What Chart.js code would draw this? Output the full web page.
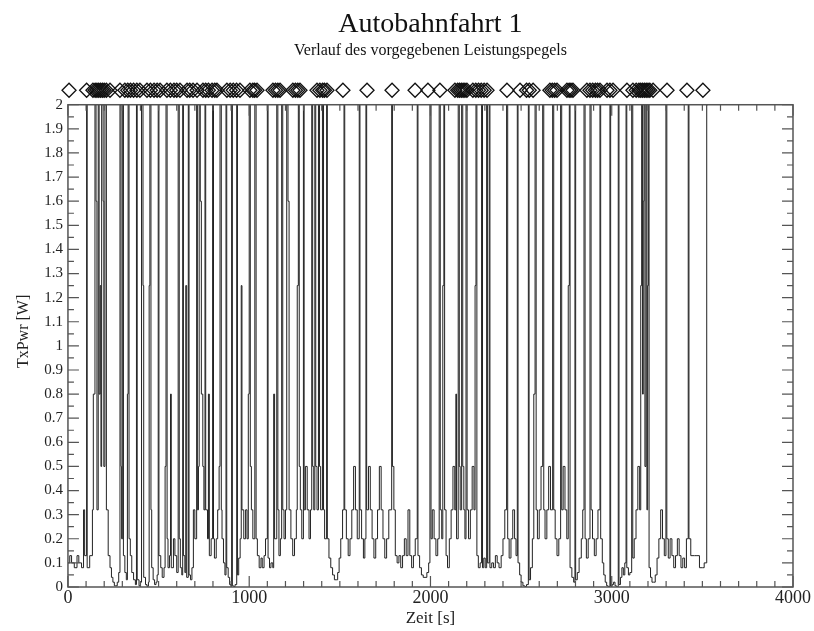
<!DOCTYPE html>
<html>
<head>
<meta charset="utf-8">
<script src="https://cdn.jsdelivr.net/npm/chart.js@4/dist/chart.umd.min.js"></script>
<style>
  html, body { margin: 0; background: #fff; }
</style>
</head>
<body>
<canvas id="pegelChart" width="814" height="631"></canvas>
<script>
// Zeitpunkte [s] und vorgegebener Leistungspegel [W] (Treppenverlauf)
const zeit = [
    0, 10, 20, 35, 50, 60, 75, 86, 92, 103,
    106, 120, 135, 140, 149, 155, 160, 167, 172, 178,
    182, 186, 194, 198, 204, 212, 222, 232, 240, 248,
    256, 264, 272, 280, 287, 293, 296, 302, 306, 314,
    322, 328, 332, 337, 344, 352, 362, 372, 378, 382,
    392, 400, 406, 414, 418, 428, 436, 444, 448, 452,
    458, 462, 470, 478, 486, 492, 498, 502, 512, 520,
    530, 536, 541, 547, 552, 560, 566, 570, 582, 590,
    600, 608, 614, 620, 628, 633, 637, 645, 650, 655,
    664, 668, 676, 684, 692, 700, 710, 714, 720, 724,
    730, 736, 744, 750, 756, 760, 770, 775, 780, 790,
    798, 803, 808, 818, 826, 834, 839, 846, 850, 858,
    866, 872, 876, 884, 892, 900, 903, 907, 914, 922,
    931, 935, 942, 950, 956, 960, 970, 980, 988, 995,
    1000, 1006, 1012, 1020, 1031, 1038, 1045, 1055, 1065, 1072,
    1082, 1090, 1100, 1104, 1112, 1120, 1130, 1135, 1140, 1152,
    1158, 1164, 1172, 1179, 1185, 1192, 1200, 1207, 1214, 1220,
    1230, 1240, 1250, 1260, 1265, 1271, 1276, 1282, 1290, 1299,
    1303, 1310, 1320, 1330, 1338, 1345, 1350, 1356, 1362, 1367,
    1374, 1382, 1388, 1394, 1404, 1410, 1416, 1427, 1431, 1440,
    1450, 1460, 1470, 1480, 1488, 1496, 1505, 1515, 1523, 1527,
    1536, 1546, 1556, 1566, 1576, 1586, 1596, 1607, 1611, 1620,
    1630, 1638, 1644, 1648, 1658, 1668, 1678, 1688, 1698, 1708,
    1718, 1728, 1738, 1748, 1758, 1770, 1786, 1790, 1798, 1806,
    1816, 1826, 1836, 1846, 1856, 1866, 1876, 1886, 1896, 1906,
    1916, 1927, 1931, 1940, 1950, 1960, 1970, 1980, 1990, 1997,
    2003, 2010, 2020, 2030, 2040, 2048, 2054, 2062, 2068, 2074,
    2078, 2086, 2094, 2104, 2114, 2124, 2134, 2140, 2144, 2153,
    2159, 2164, 2172, 2178, 2184, 2190, 2196, 2202, 2210, 2220,
    2230, 2240, 2246, 2251, 2256, 2264, 2274, 2282, 2287, 2294,
    2302, 2310, 2314, 2324, 2328, 2338, 2348, 2358, 2368, 2378,
    2390, 2400, 2410, 2420, 2426, 2434, 2444, 2454, 2464, 2472,
    2479, 2483, 2492, 2500, 2510, 2520, 2530, 2540, 2544, 2552,
    2562, 2570, 2577, 2583, 2590, 2600, 2610, 2619, 2625, 2632,
    2642, 2652, 2662, 2674, 2680, 2688, 2698, 2708, 2718, 2724,
    2732, 2742, 2752, 2760, 2766, 2770, 2780, 2790, 2797, 2801,
    2810, 2820, 2832, 2840, 2847, 2853, 2860, 2870, 2880, 2886,
    2894, 2904, 2914, 2924, 2935, 2939, 2948, 2956, 2964, 2972,
    2980, 2990, 2994, 3002, 3010, 3018, 3026, 3036, 3040, 3048,
    3056, 3064, 3072, 3079, 3083, 3092, 3100, 3110, 3116, 3124,
    3134, 3144, 3154, 3160, 3165, 3170, 3174, 3178, 3183, 3189,
    3194, 3198, 3202, 3206, 3214, 3222, 3230, 3240, 3250, 3260,
    3270, 3280, 3290, 3299, 3304, 3312, 3322, 3332, 3342, 3352,
    3362, 3372, 3382, 3392, 3402, 3412, 3422, 3426, 3436, 3456,
    3470, 3484, 3500, 3510, 3524, 3530
];
const leistung = [
    0.1, 0.13, 0.1, 0.08, 0.13, 0.1, 0.08, 0.32, 0.13, 2,
    0.08, 0.13, 0.32, 0.8, 2, 1.6, 0.32, 2, 0.8, 1.25,
    0.5, 2, 1.6, 0.5, 2, 0.32, 0.13, 0.08, 0.04, 0.02,
    0.005, 0.005, 0.02, 0.06, 2, 0.5, 0.2, 2, 0.13, 0.06,
    0.03, 0.8, 2, 0.2, 0.13, 0.06, 0.03, 0.01, 2, 0.03,
    0.005, 0.02, 2, 1.25, 0.04, 0.01, 0.003, 0.02, 1.25, 2,
    0.32, 0.08, 0.03, 0.01, 0.02, 0.05, 2, 0.13, 0.08, 0.04,
    0.08, 0.5, 2, 0.2, 0.08, 0.13, 0.8, 0.08, 0.2, 0.13,
    0.06, 2, 0.2, 0.08, 0.05, 2, 0.13, 0.06, 1.25, 0.04,
    2, 0.05, 0.03, 0.08, 0.32, 0.2, 2, 0.32, 0.5, 2,
    1.6, 0.8, 0.5, 0.32, 2, 0.32, 0.2, 0.8, 0.13, 0.2,
    2, 0.2, 0.12, 0.2, 0.32, 0.5, 2, 0.32, 0.2, 0.1,
    0.05, 2, 0.08, 0.04, 0.01, 0.003, 2, 0.005, 0.002, 0.01,
    2, 0.05, 0.12, 0.2, 1.25, 0.32, 0.2, 0.32, 0.2, 0.8,
    2, 0.5, 0.32, 0.2, 2, 0.2, 0.13, 0.08, 0.12, 0.08,
    0.13, 0.2, 2, 0.12, 0.08, 0.1, 0.08, 0.8, 0.2, 2,
    0.32, 0.13, 0.2, 2, 0.32, 0.2, 0.32, 2, 1.6, 0.32,
    0.2, 0.13, 0.2, 0.32, 1.25, 2, 0.5, 0.32, 0.2, 2,
    0.32, 0.5, 0.32, 0.2, 0.32, 2, 0.5, 0.32, 2, 0.5,
    0.32, 2, 0.5, 0.32, 2, 0.32, 0.2, 2, 0.2, 0.12,
    0.08, 0.05, 0.03, 0.03, 0.06, 0.12, 0.2, 0.32, 2, 0.32,
    0.2, 0.13, 0.2, 0.32, 0.5, 0.32, 0.2, 2, 0.32, 0.2,
    0.12, 0.2, 2, 0.32, 0.5, 0.32, 0.2, 0.12, 0.2, 0.32,
    0.5, 0.32, 0.2, 0.12, 0.2, 0.32, 2, 0.5, 0.32, 0.13,
    0.1, 0.13, 0.08, 0.13, 0.2, 0.13, 0.32, 0.13, 0.08, 0.13,
    0.2, 2, 0.13, 0.08, 0.05, 0.04, 0.04, 0.06, 0.1, 2,
    0.2, 0.32, 0.2, 0.13, 0.2, 2, 0.32, 0.2, 1.25, 2,
    0.32, 0.13, 0.08, 0.2, 0.32, 0.5, 0.32, 0.8, 0.2, 2,
    0.5, 0.32, 2, 0.5, 0.32, 0.2, 2, 0.32, 0.2, 0.32,
    0.5, 0.32, 1.25, 2, 0.13, 0.08, 0.1, 2, 0.08, 0.12,
    0.08, 2, 0.1, 2, 0.08, 0.1, 0.08, 0.13, 0.1, 0.08,
    0.13, 0.2, 0.32, 2, 0.2, 0.12, 0.2, 0.32, 0.2, 0.13,
    2, 0.1, 0.05, 0.02, 0.005, 0.002, 0.01, 2, 0.03, 0.08,
    0.2, 0.8, 2, 0.32, 0.2, 0.32, 0.5, 2, 0.32, 0.2,
    0.32, 0.5, 0.32, 2, 0.32, 0.2, 0.13, 0.2, 2, 0.32,
    0.5, 0.32, 0.2, 1.25, 2, 0.08, 0.04, 0.02, 2, 0.03,
    0.06, 0.12, 0.2, 0.32, 2, 0.2, 0.12, 0.2, 2, 0.32,
    0.2, 0.13, 0.2, 0.32, 2, 0.2, 0.1, 0.05, 0.02, 0.005,
    0.001, 2, 0.003, 0.01, 0.02, 0.005, 0.001, 2, 0.01, 0.04,
    0.08, 0.05, 0.1, 2, 0.08, 0.05, 0.06, 2, 0.12, 0.2,
    0.32, 0.5, 0.32, 1.25, 2, 0.8, 1.6, 2, 0.5, 2,
    0.32, 1.25, 2, 0.08, 0.04, 0.02, 0.02, 0.05, 0.12, 0.2,
    0.32, 0.2, 0.13, 2, 0.2, 0.12, 0.2, 0.13, 0.08, 0.13,
    0.2, 0.13, 0.08, 0.12, 0.08, 0.2, 2, 0.2, 0.13, 0.13,
    0.13, 0.08, 0.08, 0.1, 2, 2
];

// Ereignismarken (Rauten oberhalb des Diagramms)
const markerZeit = [
    6, 103, 138, 150, 160, 170, 180, 190, 200, 212,
    232, 287, 314, 330, 345, 362, 380, 397, 436, 455,
    475, 492, 508, 546, 565, 585, 600, 618, 657, 672,
    690, 712, 745, 760, 775, 795, 810, 822, 877, 895,
    912, 930, 949, 1004, 1020, 1030, 1043, 1131, 1145, 1158,
    1170, 1241, 1255, 1268, 1280, 1374, 1390, 1405, 1415, 1429,
    1517, 1650, 1788, 1915, 1986, 2052, 2135, 2150, 2160, 2170,
    2180, 2190, 2201, 2234, 2250, 2265, 2280, 2296, 2312, 2422,
    2494, 2530, 2545, 2566, 2659, 2672, 2685, 2698, 2753, 2765,
    2775, 2786, 2863, 2880, 2895, 2910, 2922, 2935, 2974, 2990,
    3007, 3084, 3117, 3135, 3150, 3160, 3170, 3180, 3190, 3200,
    3210, 3228, 3305, 3415, 3503
];

const xTickWerte = [0, 1000, 2000, 3000, 4000];
const yTickWerte = [0, 0.1, 0.2, 0.3, 0.4, 0.5, 0.6, 0.7, 0.8, 0.9, 1,
    1.1, 1.2, 1.3, 1.4, 1.5, 1.6, 1.7, 1.8, 1.9, 2];

const MARKER_Y = 2.06;
const Y_OBEN = 2.12;
const SCHRIFT = "'Liberation Serif', 'DejaVu Serif', serif";

const pegelDaten = zeit.map((t, i) => ({ x: t, y: leistung[i] }));
const markerDaten = markerZeit.map((t) => ({ x: t, y: MARKER_Y }));

// Rahmen mit nach innen zeigenden Teilstrichen auf allen vier Seiten
const rahmenPlugin = {
    id: "rahmen",
    afterDatasetsDraw(chart) {
        const { ctx, scales } = chart;
        const xs = scales.x;
        const ys = scales.y;
        const left = xs.getPixelForValue(0);
        const right = xs.getPixelForValue(4000);
        const bottom = ys.getPixelForValue(0);
        const top = ys.getPixelForValue(2);
        ctx.save();
        ctx.strokeStyle = "#555";
        ctx.lineWidth = 1.5;
        ctx.strokeRect(left, top, right - left, bottom - top);
        ctx.lineWidth = 1.2;
        ctx.beginPath();
        for (let v = 0; v <= 2000; v += 50) {
            const y = ys.getPixelForValue(v / 1000);
            const len = v % 100 === 0 ? 11 : 6;
            ctx.moveTo(left, y);
            ctx.lineTo(left + len, y);
            ctx.moveTo(right, y);
            ctx.lineTo(right - len, y);
        }
        for (let v = 0; v <= 4000; v += 100) {
            const x = xs.getPixelForValue(v);
            const len = v % 1000 === 0 ? 11 : 6;
            ctx.moveTo(x, bottom);
            ctx.lineTo(x, bottom - len);
            ctx.moveTo(x, top);
            ctx.lineTo(x, top + len);
        }
        ctx.stroke();
        ctx.restore();
    },
};

const pegelChart = new Chart(document.getElementById("pegelChart"), {
    type: "scatter",
    data: {
        datasets: [
            {
                label: "TxPwr",
                data: pegelDaten,
                showLine: true,
                stepped: true,
                borderColor: "#222",
                borderWidth: 1,
                pointRadius: 0,
                fill: false,
            },
            {
                label: "Marken",
                data: markerDaten,
                showLine: false,
                pointStyle: "rectRot",
                pointRadius: 7,
                pointBorderWidth: 1.3,
                pointBorderColor: "#111",
                pointBackgroundColor: "rgba(0,0,0,0)",
                clip: false,
            },
        ],
    },
    options: {
        responsive: false,
        animation: false,
        layout: { padding: { left: 14, right: 21, top: 0, bottom: 2 } },
        scales: {
            x: {
                type: "linear",
                min: 0,
                max: 4000,
                afterBuildTicks: (scale) => {
                    scale.ticks = xTickWerte.map((v) => ({ value: v }));
                },
                ticks: {
                    color: "#222",
                    padding: 0,
                    maxRotation: 0,
                    font: { family: SCHRIFT, size: 18 },
                    callback: (v) => String(v),
                },
                grid: { display: false, drawTicks: false },
                border: { display: false },
                title: {
                    display: true,
                    text: "Zeit [s]",
                    color: "#222",
                    padding: { top: 0, bottom: 0 },
                    font: { family: SCHRIFT, size: 17 },
                },
            },
            y: {
                type: "linear",
                min: 0,
                max: Y_OBEN,
                afterBuildTicks: (scale) => {
                    scale.ticks = yTickWerte.map((v) => ({ value: v }));
                },
                ticks: {
                    color: "#222",
                    padding: 5,
                    font: { family: SCHRIFT, size: 15 },
                    callback: (v) => String(Math.round(v * 10) / 10),
                },
                grid: { display: false, drawTicks: false },
                border: { display: false },
                title: {
                    display: true,
                    text: "TxPwr [W]",
                    color: "#222",
                    padding: { top: 0, bottom: 6 },
                    font: { family: SCHRIFT, size: 16 },
                },
            },
        },
        plugins: {
            legend: { display: false },
            tooltip: { enabled: false },
            title: {
                display: true,
                text: "Autobahnfahrt 1",
                color: "#111",
                fullSize: false,
                padding: { top: 8, bottom: 0 },
                font: { family: SCHRIFT, size: 28, weight: "normal" },
            },
            subtitle: {
                display: true,
                text: "Verlauf des vorgegebenen Leistungspegels",
                color: "#111",
                fullSize: false,
                padding: { top: 0, bottom: 15 },
                font: { family: SCHRIFT, size: 16 },
            },
        },
    },
    plugins: [rahmenPlugin],
});
</script>
</body>
</html>
